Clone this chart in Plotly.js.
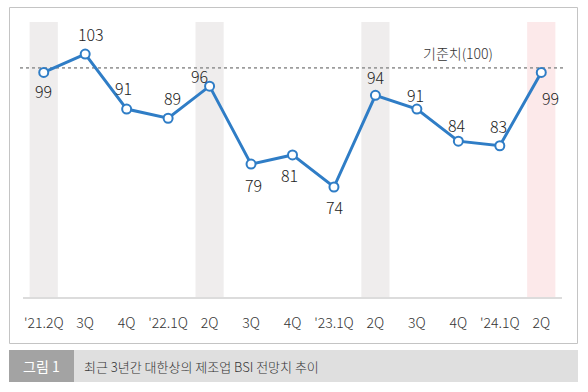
<!DOCTYPE html>
<html><head><meta charset="utf-8">
<script src="https://cdn.plot.ly/plotly-3.0.1.min.js"></script>
<style>html,body{margin:0;padding:0;background:#fff}#chart{width:588px;height:392px}</style>
</head><body><div id="chart"></div>
<script>
// ---- data ----
const quarters = ["'21.2Q","3Q","4Q","'22.1Q","2Q","3Q","4Q","'23.1Q","2Q","3Q","4Q","'24.1Q","2Q"];
const bsi = [99,103,91,89,96,79,81,74,94,91,84,83,99];
const baseline = 100;
const baselineLabel = "기준치(100)";
const shadedIdx = [0,4,8,12];
const captionTag = "그림 1";
const captionText = "최근 3년간 대한상의 제조업 BSI 전망치 추이";

// ---- layout helpers / styles ----
const W=588,H=392, M={l:23,r:26,t:22,b:95};
const pw=W-M.l-M.r, ph=H-M.t-M.b;
const px=x=>(x-M.l)/pw, py=y=>(H-M.b-y)/ph;
const shadeColors = ['#efeded','#efeded','#efeded','#fce9ea'];
const labelShift = [[0,-19],[6,20],[-3,21],[4,20],[-10,10],[2,-21],[-3,-20],[1,-20],[1,18],[-1,14],[-1,16],[-1,20],[9,-26]];
const FF = 'Noto Sans CJK KR, sans-serif';
const numFont = {family:FF, size:16, color:'#222', weight:300};
const xs = quarters.map((_,i)=>i);

const shapes = [];
shadedIdx.forEach((i,k)=>shapes.push({type:'rect',xref:'x',yref:'paper',x0:i-0.34,x1:i+0.34,y0:0,y1:1,fillcolor:shadeColors[k],line:{width:0},layer:'below'}));
shapes.push({type:'line',xref:'paper',yref:'y',x0:px(20),x1:px(566),y0:baseline,y1:baseline,line:{color:'#9d9d9d',width:1.6,dash:'dot'},layer:'below'});
shapes.push({type:'rect',xref:'paper',yref:'paper',x0:px(9.5),x1:px(577.5),y0:py(343.5),y1:py(7.5),line:{color:'#c4c4c4',width:1},fillcolor:'rgba(0,0,0,0)'});
shapes.push({type:'rect',xref:'paper',yref:'paper',x0:px(9),x1:px(74),y0:py(382),y1:py(350),line:{width:0},fillcolor:'#a3a3a3'});
shapes.push({type:'rect',xref:'paper',yref:'paper',x0:px(74),x1:px(578),y0:py(382),y1:py(350),line:{width:0},fillcolor:'#dfdfdf'});

const annotations = bsi.map((v,i)=>({x:i,y:v,xref:'x',yref:'y',text:String(v),showarrow:false,xanchor:'center',yanchor:'middle',xshift:labelShift[i][0],yshift:labelShift[i][1],font:numFont}));
annotations.push({xref:'paper',yref:'y',x:px(458),y:baseline,xanchor:'center',yanchor:'middle',yshift:15,text:baselineLabel,showarrow:false,font:{family:FF,size:14,color:'#333',weight:300}});
annotations.push({xref:'paper',yref:'paper',x:px(41),y:py(366),xanchor:'center',yanchor:'middle',text:captionTag,showarrow:false,font:{family:FF,size:14,color:'#ffffff',weight:400}});
annotations.push({xref:'paper',yref:'paper',x:px(82),y:py(366),xanchor:'left',yanchor:'middle',text:captionText,showarrow:false,font:{family:FF,size:13,color:'#333',weight:300}});

const trace = {x:xs,y:bsi,type:'scatter',mode:'lines+markers',
  line:{color:'#2f7dc6',width:3},
  marker:{size:9,color:'#ffffff',line:{color:'#2f7dc6',width:2}},
  hoverinfo:'skip',cliponaxis:false};

Plotly.newPlot('chart',[trace],{
  width:W,height:H,margin:M,paper_bgcolor:'#fff',plot_bgcolor:'#fff',showlegend:false,
  xaxis:{range:[-0.5,12.5],tickvals:xs,ticktext:quarters,showgrid:false,zeroline:false,ticks:'',
    showline:true,linecolor:'#dcdcdc',linewidth:2,ticklabelstandoff:12,
    tickfont:{family:FF,size:14,color:'#333',weight:300}},
  yaxis:{range:[50,110],visible:false,showgrid:false,zeroline:false},
  shapes:shapes,annotations:annotations
},{displayModeBar:false,staticPlot:true});
</script></body></html>
